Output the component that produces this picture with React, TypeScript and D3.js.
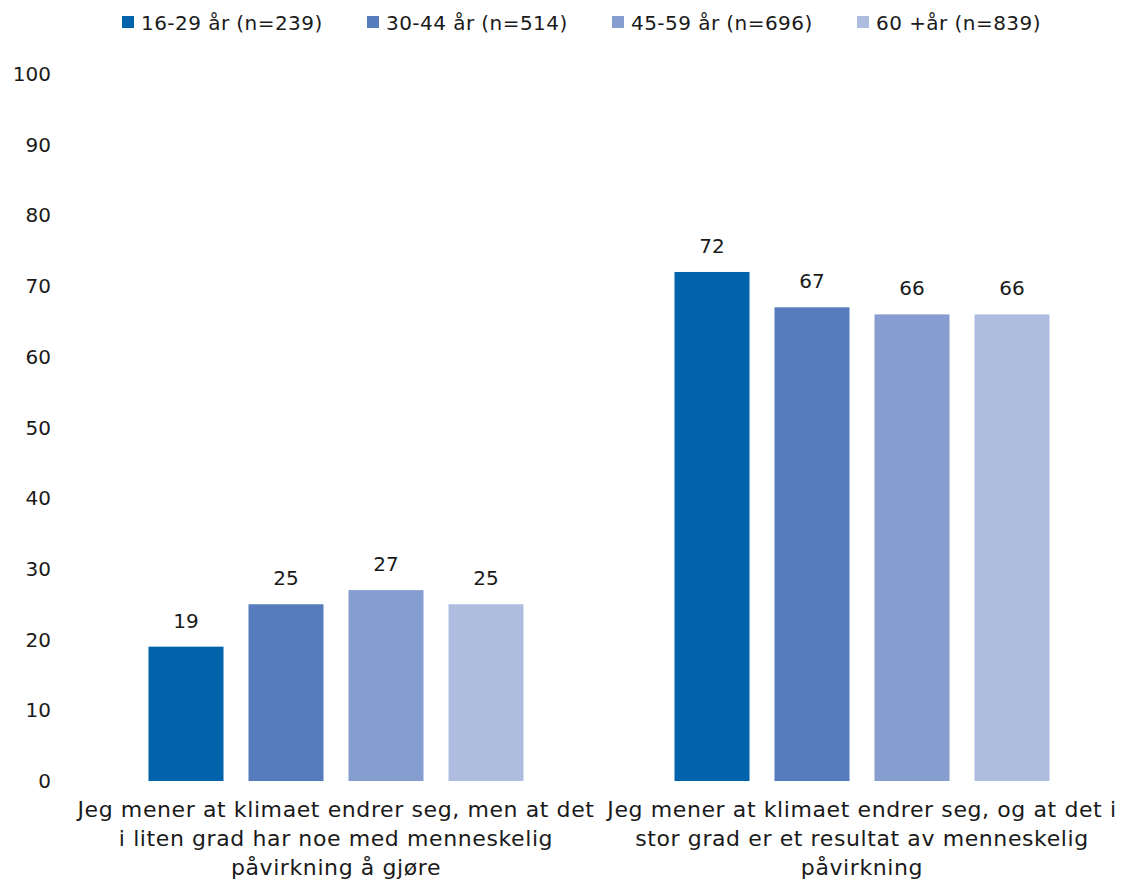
import React from "react";
import * as d3 from "d3";

const categories: string[][] = [
  ["Jeg mener at klimaet endrer seg, men at det", "i liten grad har noe med menneskelig", "påvirkning å gjøre"],
  ["Jeg mener at klimaet endrer seg, og at det i", "stor grad er et resultat av menneskelig", "påvirkning"],
];
const seriesNames = ["16-29 år (n=239)", "30-44 år (n=514)", "45-59 år (n=696)", "60 +år (n=839)"];
const seriesColors = ["#0063AC", "#567CBD", "#869ECF", "#AEBDDF"];
const values: number[][] = [
  [19, 25, 27, 25],
  [72, 67, 66, 66],
];
const yTicks = [0, 10, 20, 30, 40, 50, 60, 70, 80, 90, 100];

const W = 1144;
const H = 883;
const FONT = "'DejaVu Sans', sans-serif";

export default function App() {
  const plotLeft = 73;
  const plotRight = 1125;
  const y = d3.scaleLinear().domain([0, 100]).range([781, 74]);
  const x0 = d3
    .scaleBand<number>()
    .domain(categories.map((_, i) => i))
    .range([plotLeft, plotRight])
    .paddingInner(0)
    .paddingOuter(0);
  const groupInner = 375;
  const x1 = d3
    .scaleBand<number>()
    .domain(seriesNames.map((_, i) => i))
    .range([0, groupInner])
    .paddingInner(0.25)
    .paddingOuter(0);
  const groupOffset = (x0.bandwidth() - groupInner) / 2;

  return (
    <svg width={W} height={H} style={{ position: "absolute", left: 0, top: 0 }} fontFamily={FONT}>
      <rect width={W} height={H} fill="#fff" />
      {/* legend */}
      {seriesNames.map((s, i) => (
        <g key={s} transform={`translate(${122 + i * 245},0)`}>
          <rect x={0} y={16} width={12} height={12} fill={seriesColors[i]} />
          <text x={19} y={30} fontSize={20} letterSpacing={0.45} fill="#1a1a1a">{s}</text>
        </g>
      ))}
      {/* y axis labels */}
      {yTicks.map((t) => (
        <text key={t} x={51} y={y(t) + 7} fontSize={20} textAnchor="end" fill="#1a1a1a">
          {t}
        </text>
      ))}
      {/* bars */}
      {values.map((vals, ci) => (
        <g key={ci} transform={`translate(${(x0(ci) as number) + groupOffset},0)`}>
          {vals.map((v, si) => (
            <g key={si}>
              <rect
                x={x1(si)}
                y={y(v)}
                width={x1.bandwidth()}
                height={y(0) - y(v)}
                fill={seriesColors[si]}
              />
              <text
                x={(x1(si) as number) + x1.bandwidth() / 2}
                y={y(v) - 19}
                fontSize={20}
                textAnchor="middle"
                fill="#1a1a1a"
              >
                {v}
              </text>
            </g>
          ))}
        </g>
      ))}
      {/* category labels */}
      {categories.map((lines, ci) => (
        <text
          key={ci}
          x={(x0(ci) as number) + x0.bandwidth() / 2}
          fontSize={22}
          letterSpacing={0.6}
          textAnchor="middle"
          fill="#1a1a1a"
        >
          {lines.map((l, li) => (
            <tspan key={li} x={(x0(ci) as number) + x0.bandwidth() / 2} y={817 + li * 29}>
              {l}
            </tspan>
          ))}
        </text>
      ))}
    </svg>
  );
}
